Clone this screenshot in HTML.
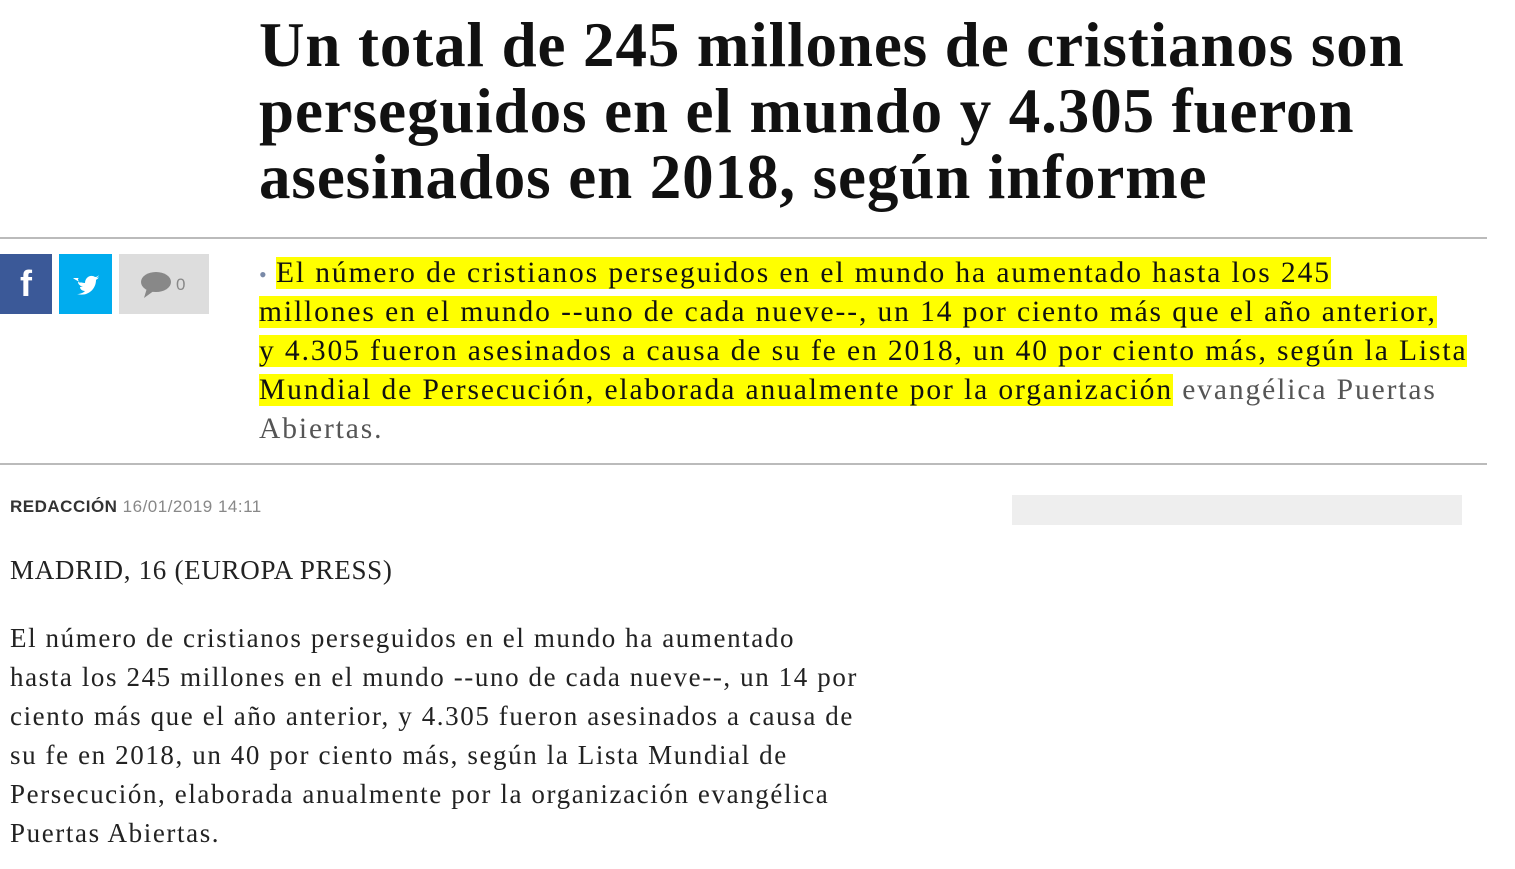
<!DOCTYPE html>
<html><head><meta charset="utf-8"><style>
body{margin:0;width:1515px;height:869px;background:#fff;position:relative;overflow:hidden;font-family:"Liberation Serif",serif;color:#111}
.t{position:absolute;left:259px;font-weight:bold;font-size:63px;letter-spacing:0.9px;white-space:nowrap;line-height:66px;color:#111}
.hr{position:absolute;left:0;width:1487px;height:2px;background:#bbb}
.lead{position:absolute;left:259px;font-size:29.5px;line-height:39px;white-space:nowrap;letter-spacing:1.9px}
.lead span.h{background:#ff0}
.g{color:#555}
.body{position:absolute;left:10px;font-size:27px;line-height:39px;white-space:nowrap;color:#222;letter-spacing:1.6px}
</style></head><body>
<div class="t" style="top:12px">Un total de 245 millones de cristianos son</div>
<div class="t" style="top:78px">perseguidos en el mundo y 4.305 fueron</div>
<div class="t" style="top:144px">asesinados en 2018, según informe</div>
<div class="hr" style="top:237px"></div>
<div style="position:absolute;left:0;top:254px;width:52px;height:60px;background:#3b5998;color:#fff;font:bold 36px 'Liberation Sans',sans-serif;text-align:center;line-height:60px">f</div>
<div style="position:absolute;left:59px;top:254px;width:53px;height:60px;background:#00acee"><svg width="53" height="60" viewBox="0 0 53 60"><path d="M14 24c4 3 8 5 12 5 0-6 6-9 10-6 2 0 3-1 4-2-1 2-2 3-3 3 1 0 2 0 3-1-1 2-2 2-3 3 0 9-8 17-19 14 3 0 6-1 8-3-3 0-5-2-5-4h3c-3-1-5-3-5-5 1 0 2 1 3 1-3-2-4-4-2-5z" fill="#fff"/></svg></div>
<div style="position:absolute;left:119px;top:254px;width:90px;height:60px;background:#ddd"><svg width="90" height="60"><ellipse cx="37" cy="28" rx="15" ry="10" fill="#888"/><path d="M28 34 L25 44 L36 36z" fill="#888"/><text x="57" y="36" font-family="Liberation Sans" font-size="17" fill="#888">0</text></svg></div>
<div class="lead" style="top:254px"><span style="color:#7a8aa8;font-size:22px;letter-spacing:0">•</span> <span class="h">El número de cristianos perseguidos en el mundo ha aumentado hasta los 245</span></div>
<div class="lead" style="top:293px"><span class="h">millones en el mundo --uno de cada nueve--, un 14 por ciento más que el año anterior,</span></div>
<div class="lead" style="top:332px"><span class="h">y 4.305 fueron asesinados a causa de su fe en 2018, un 40 por ciento más, según la Lista</span></div>
<div class="lead" style="top:371px"><span class="h">Mundial de Persecución, elaborada anualmente por la organización</span> <span class="g">evangélica Puertas</span></div>
<div class="lead g" style="top:410px">Abiertas.</div>
<div class="hr" style="top:463px"></div>
<div style="position:absolute;left:10px;top:497px;font:bold 17px 'Liberation Sans',sans-serif;color:#333;letter-spacing:0.5px">REDACCIÓN <span style="font-weight:normal;color:#888">16/01/2019 14:11</span></div>
<div style="position:absolute;left:1012px;top:495px;width:450px;height:30px;background:#eee"></div>
<div class="body" style="top:551px;letter-spacing:0.7px">MADRID, 16 (EUROPA PRESS)</div>
<div class="body" style="top:619px">El número de cristianos perseguidos en el mundo ha aumentado<br>hasta los 245 millones en el mundo --uno de cada nueve--, un 14 por<br>ciento más que el año anterior, y 4.305 fueron asesinados a causa de<br>su fe en 2018, un 40 por ciento más, según la Lista Mundial de<br>Persecución, elaborada anualmente por la organización evangélica<br>Puertas Abiertas.</div>
</body></html>
